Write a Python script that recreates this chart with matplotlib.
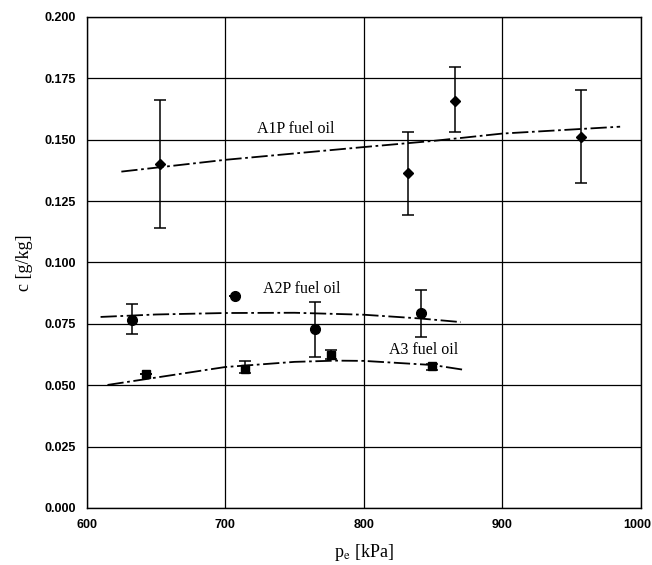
import numpy as np
import matplotlib
matplotlib.use("Agg")
import matplotlib.pyplot as plt
from matplotlib.transforms import ScaledTranslation

# measured points (pressure kPa, concentration g/kg, error bar limits)
a1p_p = [653, 832, 866, 957]
a1p_c = [0.140, 0.1365, 0.1658, 0.1511]
a1p_lo = [0.114, 0.1193, 0.1530, 0.1324]
a1p_hi = [0.166, 0.1532, 0.1796, 0.1703]

a2p_p = [633, 707, 765, 841]
a2p_c = [0.0766, 0.0864, 0.0729, 0.0794]
a2p_lo = [0.0709, 0.0864, 0.0615, 0.0697]
a2p_hi = [0.0831, 0.0864, 0.0839, 0.0888]

a3_p = [643, 714, 776, 849]
a3_c = [0.0546, 0.0566, 0.0623, 0.0578]
a3_lo = [0.0546, 0.0550, 0.0607, 0.0562]
a3_hi = [0.0546, 0.0599, 0.0644, 0.0587]

# fitted trend lines
a1p_fit_p = [625, 700, 800, 850, 900, 985]
a1p_fit_c = [0.1370, 0.1418, 0.1470, 0.1495, 0.1525, 0.1553]
a2p_fit_p = [610, 650, 700, 750, 800, 840, 870]
a2p_fit_c = [0.0778, 0.0788, 0.0794, 0.0795, 0.0787, 0.0772, 0.0757]
a3_fit_p = [615, 643, 700, 750, 780, 800, 850, 873]
a3_fit_c = [0.0501, 0.0525, 0.0574, 0.0595, 0.0600, 0.0599, 0.0582, 0.0562]

x_ticks = [600, 700, 800, 900, 1000]
y_ticks = np.arange(0, 0.2001, 0.025)

plt.rcParams["mathtext.fontset"] = "stix"
serif = "Liberation Serif"

fig = plt.figure(figsize=(6.52, 5.65), dpi=100)
ax = fig.add_axes([0.133, 0.101, 0.850, 0.869])

dash = (0, (9, 2, 1.5, 2))
ax.plot(a1p_fit_p, a1p_fit_c, color="black", lw=1.3, ls=dash)
ax.plot(a2p_fit_p, a2p_fit_c, color="black", lw=1.3, ls=dash)
ax.plot(a3_fit_p, a3_fit_c, color="black", lw=1.3, ls=dash)


def errbar(p, c, lo, hi, marker, ms):
    c = np.array(c)
    yerr = [c - np.array(lo), np.array(hi) - c]
    ax.errorbar(p, c, yerr=yerr, fmt=marker, color="black", ms=ms,
                ecolor="black", elinewidth=1.1, capsize=4, capthick=1.1)


errbar(a1p_p, a1p_c, a1p_lo, a1p_hi, "D", 5.5)
errbar(a2p_p, a2p_c, a2p_lo, a2p_hi, "o", 7)
errbar(a3_p, a3_c, a3_lo, a3_hi, "s", 5.5)

ax.text(751, 0.1545, "A1P fuel oil", family=serif, fontsize=11.5,
        ha="center", va="center")
ax.text(755, 0.0892, "A2P fuel oil", family=serif, fontsize=11.5,
        ha="center", va="center")
ax.text(843, 0.0643, "A3 fuel oil", family=serif, fontsize=11.5,
        ha="center", va="center")

ax.set_xlim(600, 1000)
ax.set_ylim(0, 0.2)
ax.set_xticks(x_ticks)
ax.set_yticks(y_ticks)
ax.set_yticklabels([f"{v:.3f}" for v in y_ticks])
ax.tick_params(length=0, pad=8)
for lab in ax.get_xticklabels() + ax.get_yticklabels():
    lab.set_family("Liberation Sans")
    lab.set_fontweight("bold")
    lab.set_fontsize(9)
# keep the last x label inside the figure
last = ax.get_xticklabels()[-1]
last.set_horizontalalignment("right")
last.set_transform(last.get_transform() + ScaledTranslation(10 / 100, 0, fig.dpi_scale_trans))

ax.grid(True, color="black", lw=0.9)
for s in ax.spines.values():
    s.set_linewidth(1.0)

ax.set_xlabel(r"p$_{\rm e}$ [kPa]", family=serif, fontsize=13, labelpad=8)
ax.set_ylabel("c [g/kg]", family=serif, fontsize=13, labelpad=8)

fig.savefig("out.png", dpi=100)
